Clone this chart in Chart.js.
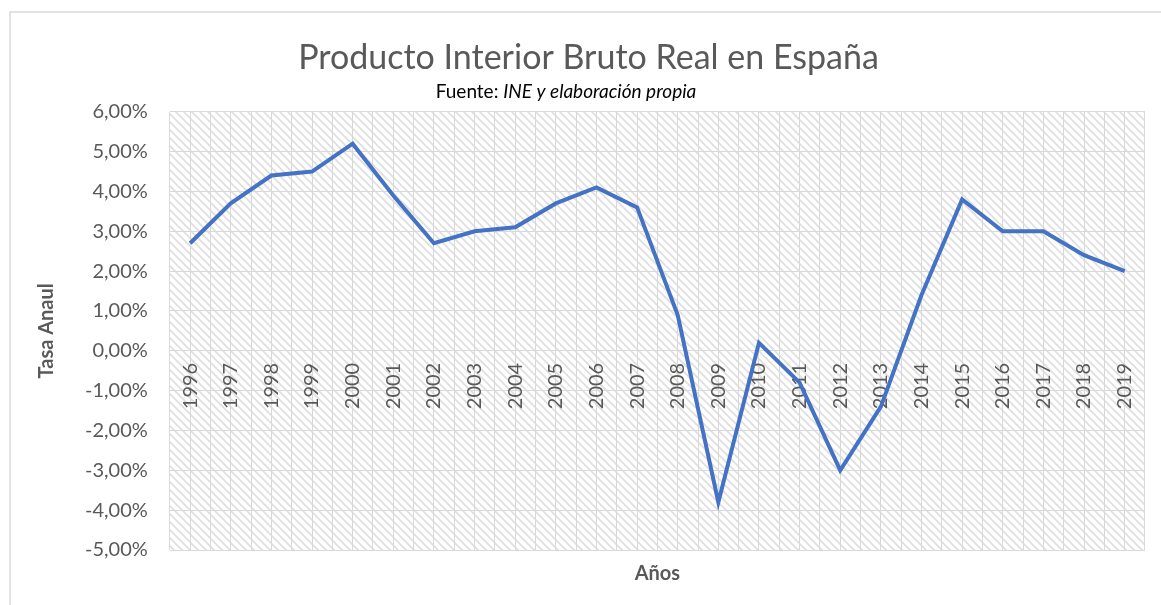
<!DOCTYPE html>
<html>
<head>
<meta charset="utf-8">
<script src="https://cdn.jsdelivr.net/npm/chart.js@4"></script>
<style>
  body { margin: 0; background: #fff; }
  #wrap { width: 1161px; height: 605px; position: relative; }
</style>
</head>
<body>
<div id="wrap"><canvas id="pib-chart"></canvas></div>
<script>
// Datos
const years = ['1996', '1997', '1998', '1999', '2000', '2001', '2002', '2003', '2004', '2005', '2006', '2007',
               '2008', '2009', '2010', '2011', '2012', '2013', '2014', '2015', '2016', '2017', '2018', '2019'];
const growth = [2.7, 3.7, 4.4, 4.5, 5.2, 3.9, 2.7, 3.0, 3.1, 3.7, 4.1, 3.6,
                0.9, -3.8, 0.2, -0.8, -3.0, -1.4, 1.4, 3.8, 3.0, 3.0, 2.4, 2.0];
const yTicks = [-5, -4, -3, -2, -1, 0, 1, 2, 3, 4, 5, 6];

const FONT = 'Lato, "Open Sans", sans-serif';
const GRAY = '#595959';
const GRID = '#d9d9d9';

// patron de rayas diagonales del area de trazado
function makeHatch() {
    const c = document.createElement('canvas');
    c.width = 8;
    c.height = 8;
    const g = c.getContext('2d');
    g.strokeStyle = '#dedede';
    g.lineWidth = 1.6;
    g.beginPath();
    g.moveTo(-2, -2); g.lineTo(10, 10);
    g.moveTo(-6, 2); g.lineTo(6, 14);
    g.moveTo(2, -6); g.lineTo(14, 6);
    g.stroke();
    return c;
}

const hatchPlugin = {
    id: 'hatch',
    beforeDraw(chart) {
        const { ctx, chartArea: a } = chart;
        ctx.save();
        // marco del grafico
        ctx.strokeStyle = GRID;
        ctx.lineWidth = 1.5;
        ctx.strokeRect(10, 12, chart.width + 20, chart.height + 20);
        ctx.fillStyle = ctx.createPattern(makeHatch(), 'repeat');
        ctx.fillRect(a.left, a.top, a.right - a.left, a.bottom - a.top);
        ctx.restore();
    }
};

// subtitulo con parte en cursiva
const subtitlePlugin = {
    id: 'fuente',
    afterDraw(chart) {
        const ctx = chart.ctx;
        const part1 = 'Fuente: ';
        const part2 = 'INE y elaboración propia';
        ctx.save();
        ctx.fillStyle = '#000';
        ctx.textBaseline = 'middle';
        ctx.font = '19px ' + FONT;
        const w1 = ctx.measureText(part1).width;
        ctx.font = 'italic 19px ' + FONT;
        const w2 = ctx.measureText(part2).width;
        let x = 566 - (w1 + w2) / 2;
        ctx.font = '19px ' + FONT;
        ctx.fillText(part1, x, 92);
        ctx.font = 'italic 19px ' + FONT;
        ctx.fillText(part2, x + w1, 92);
        ctx.restore();
    }
};

const config = {
    type: 'line',
    data: {
        labels: years,
        datasets: [{
            label: 'PIB',
            data: growth,
            borderColor: '#4472C4',
            backgroundColor: '#4472C4',
            borderWidth: 4,
            pointRadius: 0,
            tension: 0,
            xAxisID: 'x',
            yAxisID: 'y'
        }]
    },
    options: {
        responsive: true,
        maintainAspectRatio: false,
        animation: false,
        layout: { padding: { left: 31, right: 15, top: 12, bottom: 15 } },
        plugins: {
            legend: { display: false },
            tooltip: { enabled: false },
            title: {
                display: true,
                text: 'Producto Interior Bruto Real en España',
                color: GRAY,
                font: { family: FONT, size: 34, weight: 'normal' },
                padding: { top: 26, bottom: 33 }
            }
        },
        scales: {
            x: {
                type: 'category',
                position: 'bottom',
                offset: true,
                grid: { color: GRID, offset: true, drawTicks: false },
                border: { display: false },
                ticks: { display: false },
                title: {
                    display: true,
                    text: 'Años',
                    color: GRAY,
                    font: { family: FONT, size: 20, weight: 'bold' },
                    padding: { top: 12 }
                }
            },
            xLabels: {
                type: 'category',
                position: { y: 0 },
                offset: true,
                grid: { color: GRID, offset: false, drawTicks: false },
                border: { display: false },
                ticks: {
                    color: GRAY,
                    font: { family: FONT, size: 20 },
                    minRotation: 90,
                    maxRotation: 90,
                    padding: 12,
                    autoSkip: false
                }
            },
            y: {
                min: -5,
                max: 6,
                afterBuildTicks: axis => { axis.ticks = yTicks.map(v => ({ value: v })); },
                grid: { color: GRID, drawTicks: false },
                border: { display: false },
                ticks: {
                    color: GRAY,
                    font: { family: FONT, size: 20 },
                    padding: 22,
                    callback: v => v.toFixed(2).replace('.', ',') + '%'
                },
                title: {
                    display: true,
                    text: 'Tasa Anaul',
                    color: GRAY,
                    font: { family: FONT, size: 20, weight: 'bold' },
                    padding: { bottom: 4 }
                }
            }
        }
    },
    plugins: [hatchPlugin, subtitlePlugin]
};

const pibChart = new Chart(document.getElementById('pib-chart'), config);
</script>
</body>
</html>
